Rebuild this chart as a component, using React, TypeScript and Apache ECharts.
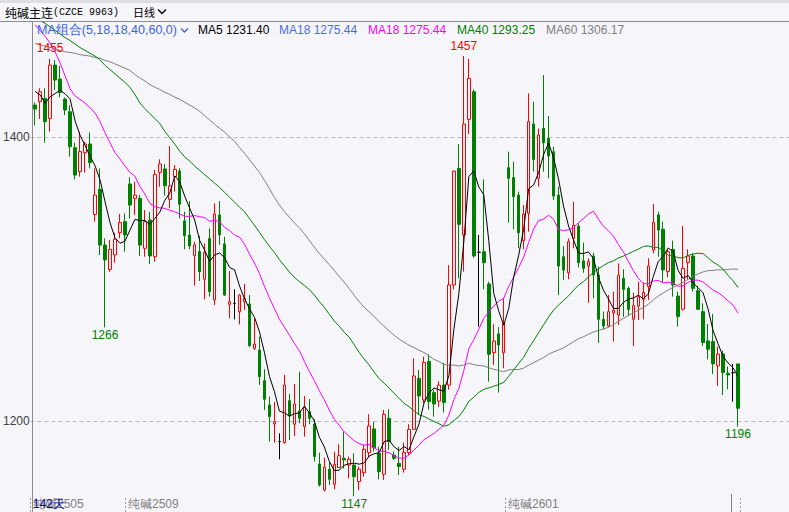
import React, { useEffect, useRef } from "react";
import * as echarts from "echarts";

// ---- data ----
const opens = [
  1422.5, 1424.9, 1427.2, 1413.1, 1450.7, 1440.8, 1426.7, 1417.8, 1392.5, 1375.6,
  1389, 1395.1, 1345.5, 1363.1, 1323.9, 1306.8, 1317, 1332.6, 1340.4, 1366.9,
  1356.8, 1356.8, 1321.6, 1341.5, 1315.7, 1375.1, 1377.5, 1356.1, 1372.1, 1376.1,
  1340.9, 1331, 1316.4, 1319.3, 1299.8, 1328.6, 1285.2, 1345.1, 1324.7, 1282.2,
  1282.8, 1277, 1284, 1282.4, 1251.2, 1250, 1228.4, 1211.3, 1197.9, 1185.5,
  1184.8, 1214.3, 1197.7, 1207.1, 1196, 1206.6, 1197.9, 1169.7, 1151.4, 1166,
  1155.4, 1167.2, 1173.7, 1169, 1169, 1157.3, 1163.6, 1177.7, 1194.4, 1177.2,
  1162.5, 1201.9, 1176, 1170.2, 1166, 1177.7, 1194.1, 1230, 1214.8, 1242,
  1220, 1214, 1225.3, 1225.3, 1295.8, 1377.9, 1331, 1412.4, 1431.9, 1318.8,
  1319.2, 1296.5, 1248.1, 1261.3, 1248.1, 1378.4, 1371.4, 1359.1, 1327, 1346.2,
  1409.1, 1370.9, 1406, 1399, 1389.6, 1359.1, 1315.7, 1304.4, 1328.6, 1337.3,
  1312.7, 1309.1, 1316.2, 1302.8, 1271.6, 1266.9, 1276.1, 1274.6, 1300.4, 1293.4,
  1271.6, 1280.9, 1285.7, 1294.6, 1320.4, 1345.1, 1335, 1305.2, 1320.9, 1288,
  1278.7, 1311.5, 1316.2, 1291.8, 1277, 1256.4, 1255.9, 1238.8, 1247.2, 1233.6,
  1234, 1240.2,
];
const closes = [
  1419.7, 1431.9, 1410.8, 1450.7, 1440.1, 1431.4, 1419, 1393.2, 1373.2, 1389.7,
  1395.1, 1381.9, 1359.1, 1323.9, 1313.4, 1320.9, 1328, 1339.7, 1331, 1352.1,
  1359.1, 1323.9, 1340.4, 1316.2, 1373.7, 1381, 1365.7, 1365.5, 1377.2, 1352.6,
  1330.5, 1323.3, 1324, 1305.2, 1318.6, 1291.1, 1345.8, 1331, 1288.7, 1284,
  1282.8, 1288.7, 1286.4, 1253.1, 1254.2, 1231.2, 1215.3, 1203.1, 1199.5, 1185.5,
  1225.4, 1203.5, 1212, 1201.9, 1209.6, 1201.9, 1174.9, 1155, 1167.4, 1158.9,
  1169.5, 1175.6, 1172.6, 1173, 1160.8, 1166, 1180.1, 1196.5, 1181.2, 1164.3,
  1204.7, 1185.5, 1173.7, 1167.9, 1177.9, 1194.1, 1231.7, 1217.6, 1241.3, 1213.6,
  1212, 1225.3, 1213, 1295.8, 1376, 1338.5, 1409.1, 1441.3, 1316.2, 1318.8,
  1311.5, 1247, 1256.3, 1253.5, 1268.8, 1370.9, 1358, 1332.6, 1345.8, 1410.8,
  1384.2, 1401.4, 1396, 1386.6, 1358.4, 1309.1, 1306.3, 1326.3, 1338, 1311.5,
  1307.5, 1312.2, 1302.8, 1271.6, 1266.9, 1277, 1278, 1302.8, 1292.7, 1278.6,
  1281.2, 1287.5, 1290.6, 1309.2, 1339.9, 1334.5, 1306.4, 1319.3, 1295.8, 1273.5,
  1307.5, 1316.2, 1293.4, 1278.7, 1255.2, 1250.5, 1240.2, 1247.2, 1234.1, 1232.4,
  1234, 1209,
];
const lows = [
  1408.2, 1412.7, 1396, 1403.7, 1433.1, 1427.9, 1415.5, 1386.1, 1370.2, 1372.1,
  1374.9, 1377.9, 1340.4, 1316.9, 1266, 1305, 1311.5, 1328.6, 1319.2, 1342.7,
  1345.1, 1316.2, 1315.7, 1310.6, 1312.2, 1365, 1358.7, 1349.8, 1361.5, 1342.7,
  1320.9, 1320.9, 1295.3, 1298.6, 1285.7, 1287.6, 1281.7, 1324, 1288, 1272.3,
  1271.6, 1268, 1278.2, 1252, 1250, 1225.4, 1207.8, 1185.5, 1184.7, 1173,
  1184, 1186.6, 1189.4, 1198.4, 1189, 1197.7, 1171.4, 1153.8, 1150.3, 1155,
  1151.9, 1167, 1166.7, 1159.6, 1147, 1151.4, 1160.8, 1174.4, 1178.4, 1158.9,
  1158.5, 1179.6, 1172.6, 1162, 1163.6, 1176.1, 1193.7, 1204.2, 1212.5, 1208,
  1203, 1210, 1206, 1222, 1292.7, 1300.5, 1305.2, 1402, 1315, 1266.4,
  1292.7, 1227.7, 1239.4, 1220, 1237.1, 1339.7, 1335, 1321.6, 1320.9, 1333.3,
  1375.6, 1365, 1375.6, 1370.9, 1355.6, 1288.7, 1299.3, 1299.8, 1321.6, 1308.2,
  1304.4, 1283.3, 1286.4, 1255.1, 1264.5, 1266, 1255.8, 1267.6, 1273.4, 1273.9,
  1252.8, 1271.1, 1271.6, 1285.2, 1318.1, 1315.7, 1297, 1301.2, 1287.6, 1266.5,
  1277.7, 1299.8, 1291.1, 1278.2, 1252.8, 1243.5, 1233.1, 1224.7, 1218.3, 1222.3,
  1213.6, 1196,
];
const highs = [
  1424.4, 1434.3, 1434.3, 1455, 1454.2, 1450, 1427.9, 1422.5, 1396, 1403.7,
  1396.7, 1403.3, 1377.9, 1377.9, 1328.6, 1327.5, 1332.6, 1345.8, 1346.2, 1371.6,
  1368.5, 1359.1, 1348.6, 1347.4, 1376.8, 1384.3, 1381, 1393.7, 1380.3, 1377.9,
  1347.4, 1354.9, 1326.3, 1330.3, 1325.1, 1335.7, 1353.3, 1354.9, 1329.8, 1305.6,
  1292.7, 1289.4, 1296.5, 1288.7, 1272.3, 1259.4, 1236.4, 1217.2, 1213.6, 1191.3,
  1232.4, 1219, 1226, 1234.7, 1217.6, 1215.5, 1201.2, 1177.7, 1174.2, 1171.4,
  1178.4, 1183.6, 1192.5, 1174.9, 1177.2, 1167.9, 1183.1, 1204.7, 1199.5, 1181.9,
  1207.8, 1208.2, 1178.4, 1181.9, 1184.8, 1197.7, 1244.1, 1235.9, 1245.3, 1247,
  1222, 1228, 1241, 1309.8, 1376.3, 1395.1, 1457, 1455, 1433.6, 1331,
  1370.2, 1298.1, 1268.1, 1266, 1286.4, 1389.7, 1382.6, 1361.5, 1352.1, 1430.7,
  1424.9, 1406, 1443.6, 1414.8, 1393.2, 1365, 1323.2, 1328.6, 1354.4, 1339.2,
  1325.6, 1314.5, 1318.5, 1308.7, 1277, 1288.7, 1291.1, 1311, 1306.8, 1294.6,
  1290.4, 1298.1, 1297.6, 1314.6, 1352.8, 1347.4, 1340.4, 1320.9, 1327, 1291.1,
  1337.3, 1320.9, 1318.1, 1295.1, 1282.9, 1268.3, 1275.4, 1252.4, 1249.6, 1238.3,
  1240.2, 1240.2,
];

// Moving-average values before a full window exists
const ma5Lead = [1432, 1429.6, 1423.7, 1428.4];
const ma18Lead = [1479, 1475, 1471, 1466, 1460, 1452, 1443, 1434, 1429, 1426.5, 1424, 1420.5, 1417, 1411, 1403, 1396, 1389];
const ma40Lead = [
  1484, 1482, 1480, 1477.5, 1475, 1472.5, 1470, 1468, 1465.5, 1463, 1461, 1459, 1457, 1454.5, 1450.5, 1447.5,
  1444.5, 1441.5, 1438.5, 1435, 1430, 1424, 1420, 1416.5, 1413, 1409.5, 1404, 1399.5, 1395, 1390, 1386, 1383,
  1379.5, 1376.5, 1373.5, 1370.5, 1367.5, 1364.5, 1361,
];
const ma60Lead = [
  1466, 1465, 1464, 1463, 1462, 1461, 1460, 1459.5, 1459, 1458, 1457.5, 1457, 1456, 1455.5, 1454, 1453,
  1451.5, 1450, 1448.5, 1447, 1444, 1441.5, 1439.5, 1437, 1435, 1433.5, 1431.5, 1430, 1428, 1426.5, 1424.5,
  1422.5, 1420.5, 1418, 1415, 1412, 1409, 1406, 1403.5, 1400, 1397, 1392.5, 1388.5, 1384, 1379.5, 1375,
  1369.5, 1363.5, 1357.5, 1352, 1347.5, 1343.5, 1339.5, 1336, 1332, 1327, 1322.5, 1318, 1314,
];

const contractStarts = [0, 19, 95];
const contractNames = ["纯碱2505", "纯碱2509", "纯碱2601"];

const legendNames = ["MA5", "MA18", "MA18", "MA40", "MA60"];
const legendValues = ["1231.40", "1275.44", "1275.44", "1293.25", "1306.17"];
const legendColors = ["#000000", "#4a6de5", "#ff00ff", "#008000", "#808080"];
const legendX = [198, 279, 368, 457, 546];

const markIndex = [3, 86, 14, 64, 141];
const markValue = [1455, 1457, 1266, 1147, 1196];
const markIsHigh = [true, true, false, false, false];

const yTickValues = [1200, 1400];
const yMin = 1135.9;
const yMax = 1481;

const BG = "#f5f5fa";
const UP = "#ff0000";
const DOWN = "#008000";

function movingAverage(n: number, lead: number[]) {
  return closes.map((_, i) => {
    if (i < n - 1) return lead[i];
    let s = 0;
    for (let k = i - n + 1; k <= i; k++) s += closes[k];
    return +(s / n).toFixed(2);
  });
}

export default function App() {
  const ref = useRef<HTMLDivElement>(null);

  useEffect(() => {
    if (!ref.current) return;
    const chart = echarts.init(ref.current, null, { renderer: "svg" });
    const categories = opens.map((_, i) => `D${i + 1}`);
    const candleData = opens.map((o, i) => {
      const v = [o, closes[i], lows[i], highs[i]];
      if (o === closes[i]) {
        return {
          value: v,
          itemStyle: { color: "#000", color0: "#000", borderColor: "#000", borderColor0: "#000" },
        };
      }
      return v;
    });
    const ma5 = movingAverage(5, ma5Lead);
    const ma18 = movingAverage(18, ma18Lead);
    const ma40 = movingAverage(40, ma40Lead);
    const ma60 = movingAverage(60, ma60Lead);

    const lineSeries = (name: string, data: number[], color: string) => ({
      type: "line",
      name,
      xAxisIndex: 0,
      yAxisIndex: 0,
      data,
      showSymbol: false,
      symbol: "none",
      clip: true,
      lineStyle: { width: 1, color },
      itemStyle: { color },
      z: 3,
    });

    const font = "Liberation Sans";

    const markData = markIndex.map((idx, k) => ({
      coord: [categories[idx], markValue[k]],
      value: markValue[k],
      label: {
        show: true,
        position: markIsHigh[k] ? "top" : "bottom",
        distance: markIsHigh[k] ? 4 : 1,
        color: markIsHigh[k] ? UP : DOWN,
        fontSize: 12,
        fontFamily: font,
        formatter: String(markValue[k]),
      },
    }));

    const graphics: any[] = [
      { type: "rect", shape: { x: 0, y: 0, width: 789, height: 21 }, style: { fill: BG }, z: 100 },
      { type: "rect", shape: { x: 0, y: 0, width: 789, height: 3 }, style: { fill: "#dedee3" }, z: 101 },
      { type: "line", shape: { x1: 0, y1: 21.5, x2: 789, y2: 21.5 }, style: { stroke: "#8c8c8c", lineWidth: 1 }, z: 101 },
      {
        type: "text",
        x: 5,
        y: 12,
        z: 102,
        style: {
          text: "{a|纯碱主连}{b|(CZCE 9963)}",
          verticalAlign: "middle",
          rich: {
            a: { fontFamily: "Noto Sans CJK SC", fontSize: 12, fill: "#000" },
            b: { fontFamily: "Liberation Mono", fontSize: 10, fill: "#000" },
          },
        },
      },
      {
        type: "text",
        x: 133,
        y: 12,
        z: 102,
        style: { text: "日线", fontFamily: "Noto Sans CJK SC", fontSize: 11, fill: "#000", verticalAlign: "middle" },
      },
      {
        type: "polyline",
        z: 102,
        shape: { points: [[158, 9.5], [162, 13.5], [166, 9.5]] },
        style: { stroke: "#000", lineWidth: 1.3, fill: null },
      },
      {
        type: "text",
        x: 37,
        y: 30,
        z: 102,
        style: { text: "MA组合(5,18,18,40,60,0)", fontFamily: font, fontSize: 12.5, fill: "#3d63dd", verticalAlign: "middle" },
      },
      {
        type: "polyline",
        z: 102,
        shape: { points: [[181, 28.5], [184.5, 32], [188, 28.5]] },
        style: { stroke: "#3d63dd", lineWidth: 1.3, fill: null },
      },
      ...legendNames.map((n, k) => ({
        type: "text",
        x: legendX[k],
        y: 30,
        z: 102,
        style: {
          text: `${n} ${legendValues[k]}`,
          fontFamily: font,
          fontSize: 12,
          fill: legendColors[k],
          verticalAlign: "middle",
        },
      })),
      {
        type: "text",
        x: 33,
        y: 504,
        z: 102,
        style: { text: "142天", fontFamily: font, fontSize: 12, fill: "#000080", verticalAlign: "middle" },
      },
      { type: "line", shape: { x1: 731.5, y1: 494, x2: 731.5, y2: 512 }, style: { stroke: "#808080", lineWidth: 1 }, z: 101 },
    ];

    const option: any = {
      animation: false,
      backgroundColor: BG,
      textStyle: { fontFamily: font },
      grid: [
        { left: 30.5, width: 710, top: 22, height: 490 },
        { left: 30.5, right: 0, top: 22, height: 490 },
        { left: 30.5, width: 710, top: 497, height: 1 },
      ],
      xAxis: [
        { type: "category", gridIndex: 0, data: categories, boundaryGap: true, show: false },
        { type: "value", gridIndex: 1, min: 0, max: 1, show: false },
        {
          type: "category",
          gridIndex: 2,
          data: categories,
          boundaryGap: true,
          axisLine: { show: false },
          axisTick: {
            show: true,
            length: 14,
            interval: (index: number) => contractStarts.includes(index),
            lineStyle: { color: "#9a9a9a", type: [2, 2] },
          },
          axisLabel: {
            show: true,
            margin: 0,
            align: "left",
            fontSize: 12,
            lineHeight: 12,
            color: "#808080",
            fontFamily: font,
            interval: (index: number) => contractStarts.includes(index),
            formatter: (_: string, index: number) => {
              const k = contractStarts.indexOf(index);
              return k >= 0 ? contractNames[k] : "";
            },
          },
        },
      ],
      yAxis: [
        {
          type: "value",
          gridIndex: 0,
          min: yMin,
          max: yMax,
          axisLine: { show: true, lineStyle: { color: "#8a8a8a" } },
          axisTick: { show: false, customValues: yTickValues },
          splitLine: { show: false },
          axisLabel: {
            color: "#404040",
            fontSize: 12,
            margin: 3,
            fontFamily: font,
            customValues: yTickValues,
            formatter: (v: number) => String(v),
          },
        },
        {
          type: "value",
          gridIndex: 1,
          min: yMin,
          max: yMax,
          axisLine: { show: false },
          axisTick: { show: false, customValues: yTickValues },
          axisLabel: { show: false, customValues: yTickValues },
          splitLine: { show: true, lineStyle: { color: "#b9b9c0", type: [4, 3] } },
        },
        { type: "value", gridIndex: 2, show: false },
      ],
      series: [
        {
          type: "candlestick",
          xAxisIndex: 0,
          yAxisIndex: 0,
          data: candleData,
          barWidth: 3,
          clip: false,
          itemStyle: {
            color: BG,
            color0: DOWN,
            borderColor: UP,
            borderColor0: DOWN,
            borderColorDoji: "#000",
            borderWidth: 1,
          },
          markPoint: {
            symbol: "circle",
            symbolSize: 1,
            itemStyle: { color: "rgba(0,0,0,0)" },
            data: markData,
          },
          z: 2,
        },
        lineSeries("MA60", ma60, "#808080"),
        lineSeries("MA40", ma40, "#008000"),
        lineSeries("MA18", ma18, "#ff00ff"),
        lineSeries("MA5", ma5, "#000000"),
      ],
      graphic: graphics,
    };

    chart.setOption(option);
    return () => chart.dispose();
  }, []);

  return (
    <div
      ref={ref}
      style={{ position: "fixed", left: 0, top: 0, width: 789, height: 512, background: BG }}
    />
  );
}
